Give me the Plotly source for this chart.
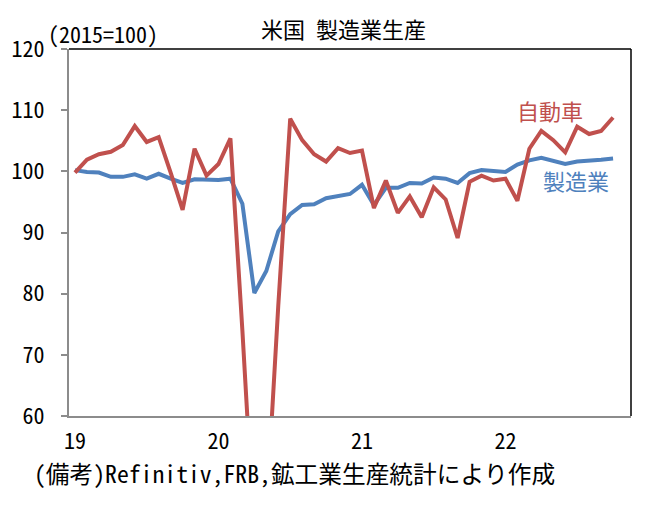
import plotly.graph_objects as go

months = list(range(46))  # Jan 2019 .. Oct 2022
year_ticks = [0, 12, 24, 36]
year_labels = ["19", "20", "21", "22"]

auto = [99.8, 101.9, 102.8, 103.2, 104.3, 107.4, 104.8, 105.6, 99.8, 93.7, 103.7, 99.3,
        101.2, 105.4, 74.0, 40.0, 44.0, 78.0, 108.6, 105.1, 102.8, 101.6, 103.8, 103.0,
        103.4, 94.0, 98.5, 93.2, 95.9, 92.5, 97.4, 95.4, 89.1, 98.3, 99.3, 98.5,
        98.8, 95.2, 103.7, 106.6, 105.1, 103.1, 107.3, 106.1, 106.6, 108.8]
manuf = [100.2, 99.9, 99.8, 99.1, 99.1, 99.5, 98.8, 99.6, 98.8, 98.1, 98.7, 98.6,
         98.6, 98.8, 94.7, 80.1, 83.7, 90.2, 93.0, 94.5, 94.6, 95.6, 96.0, 96.3,
         97.8, 94.5, 97.3, 97.3, 98.1, 98.0, 99.0, 98.8, 98.1, 99.7, 100.2, 100.1,
         99.9, 101.1, 101.8, 102.2, 101.7, 101.2, 101.6, 101.7, 101.9, 102.1]

RED = "#C0504D"
BLUE = "#4F81BD"
FONT = "Noto Sans Mono CJK JP, Noto Sans CJK JP, sans-serif"

fig = go.Figure()
fig.add_trace(go.Scatter(x=months, y=manuf, mode="lines", name="製造業",
                         line=dict(color=BLUE, width=4)))
fig.add_trace(go.Scatter(x=months, y=auto, mode="lines", name="自動車",
                         line=dict(color=RED, width=4)))

fig.update_layout(
    width=666, height=507,
    margin=dict(l=67, r=35, t=49, b=91),
    paper_bgcolor="white", plot_bgcolor="white",
    showlegend=False,
    font=dict(family=FONT, size=22, color="black"),
    xaxis=dict(range=[-0.5, 46.5], tickvals=year_ticks, ticktext=year_labels,
               showgrid=False, zeroline=False, showline=True, linecolor="#8C8C8C",
               linewidth=2, ticks="", tickfont=dict(size=22), ticklabelstandoff=5),
    yaxis=dict(range=[60, 120], dtick=10, showgrid=False, zeroline=False,
               showline=True, linecolor="#8C8C8C", linewidth=2,
               ticks="outside", ticklen=6, tickcolor="#8C8C8C", tickwidth=2,
               tickfont=dict(size=22), ticklabelstandoff=12),
    shapes=[
        dict(type="line", xref="paper", yref="paper", x0=0, x1=1, y0=1, y1=1,
             line=dict(color="black", width=1.5)),
        dict(type="line", xref="paper", yref="paper", x0=1, x1=1, y0=0, y1=1,
             line=dict(color="black", width=1.5)),
    ],
    annotations=[
        dict(text="米国 製造業生産", xref="paper", yref="paper", x=0.488, y=1.0,
             yanchor="middle", yshift=21, showarrow=False, font=dict(size=22)),
        dict(text="(2015=100)", xref="paper", yref="paper", x=0, y=1,
             xshift=-23, yshift=16, xanchor="left", yanchor="middle",
             showarrow=False, font=dict(size=22)),
        dict(text="自動車", x=39.75, y=110.0, showarrow=False,
             font=dict(size=22, color=RED)),
        dict(text="製造業", x=41.9, y=98.6, showarrow=False,
             font=dict(size=22, color=BLUE)),
        dict(text="(備考)Refinitiv,FRB,鉱工業生産統計により作成", xref="paper", yref="paper",
             x=0, y=0, xanchor="left", yanchor="middle", xshift=-37, yshift=-57,
             showarrow=False, font=dict(size=23.7)),
    ],
)

fig.write_html("out.html")
